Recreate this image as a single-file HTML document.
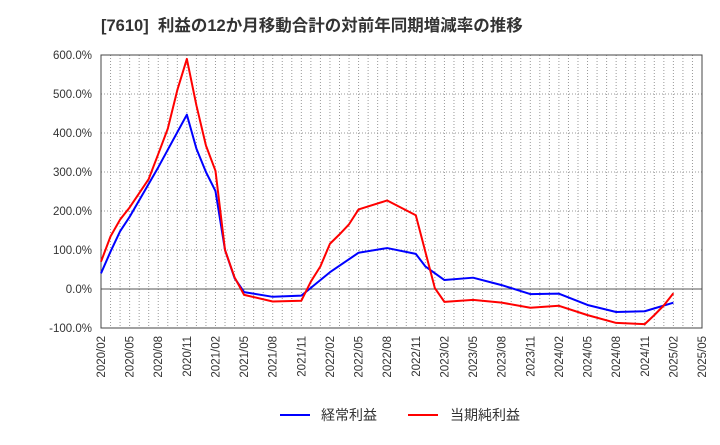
<!DOCTYPE html>
<html><head><meta charset="utf-8"><style>
body{margin:0;background:#fff;}
svg text{font-family:"Liberation Sans","Noto Sans CJK JP",sans-serif;}
</style></head><body>
<svg id="chart" width="720" height="440" xmlns="http://www.w3.org/2000/svg">
<text x="101" y="31" font-size="16.5" font-weight="bold" fill="#333" style="white-space:pre">[7610]  利益の12か月移動合計の対前年同期増減率の推移</text>
<g id="grid"></g><g id="axes"></g><g id="series"></g>
<g>
<line x1="280" y1="415" x2="310" y2="415" stroke="#0000ff" stroke-width="2"/>
<text x="321" y="420" font-size="14" fill="#333">経常利益</text>
<line x1="408" y1="415" x2="438" y2="415" stroke="#ff0000" stroke-width="2"/>
<text x="450" y="420" font-size="14" fill="#333">当期純利益</text>
</g>
</svg>
<script>
const xLabels=["2020/02","2020/05","2020/08","2020/11","2021/02","2021/05","2021/08","2021/11","2022/02","2022/05","2022/08","2022/11","2023/02","2023/05","2023/08","2023/11","2024/02","2024/05","2024/08","2024/11","2025/02","2025/05"];
const yTicks=[600,500,400,300,200,100,0,-100];
const blueMonths=[0,1,2,3,6,9,10,11,12,13,14,15,18,21,24,27,30,33,34,36,39,42,45,48,51,54,57,60];
const blueValues=[40,96,148,185,312,447,360,300,251,100,28,-8,-20,-17,43,93,105,90,58,23,29,10,-13,-12,-41,-59,-57,-35];
const redMonths=[0,1,2,3,5,6,7,8,9,10,11,12,13,14,15,18,21,22,23,24,25,26,27,30,33,35,36,39,42,45,48,51,54,57,58,59,60];
const redValues=[70,135,178,209,282,346,411,510,590,471,368,303,100,30,-15,-32,-30,19,58,116,140,166,204,227,189,2,-33,-28,-35,-48,-43,-67,-87,-90,-67,-42,-11];
const L=101,R=702,T=55,B=328,NM=63;
const X=m=>L+(R-L)*m/NM;
const Y=v=>B-(v+100)/700*(B-T);
const NS="http://www.w3.org/2000/svg";
function mk(tag,attrs,parent){const e=document.createElementNS(NS,tag);for(const k in attrs)e.setAttribute(k,attrs[k]);document.getElementById(parent).appendChild(e);return e;}
for(let m=1;m<NM;m++){const g=mk('line',{x1:X(m),x2:X(m),y1:T,y2:B,stroke:'#999','stroke-dasharray':'1,2','stroke-width':1},'grid');

}
yTicks.forEach(v=>{
const g=mk('line',{x1:L,x2:R,y1:Y(v),y2:Y(v),stroke:v===0?'#555':'#999','stroke-dasharray':v===0?'':'1,2','stroke-width':1},'grid');


const t=mk('text',{x:92,y:Y(v)+4,'text-anchor':'end','font-size':11.5,fill:'#333'},'axes');


t.textContent=v.toFixed(1)+'%';});
const fr=mk('rect',{x:L,y:T,width:R-L,height:B-T,fill:'none',stroke:'#444','stroke-width':1},'axes');


xLabels.forEach((s,i)=>{const x=X(i*3)+4;
const t=mk('text',{x:x,y:336,'text-anchor':'end','font-size':11.5,fill:'#333',transform:`rotate(-90 ${x} 336)`},'axes');


t.textContent=s;});
function line(ms,vs,color,name){const p=mk('polyline',{points:ms.map((m,i)=>X(m)+','+Y(vs[i])).join(' '),fill:'none',stroke:color,'stroke-width':2,'stroke-linejoin':'round'},'series');

}
line(blueMonths,blueValues,'#0000ff','recurring-profit-line');
line(redMonths,redValues,'#ff0000','net-profit-line');
</script>
</body></html>
